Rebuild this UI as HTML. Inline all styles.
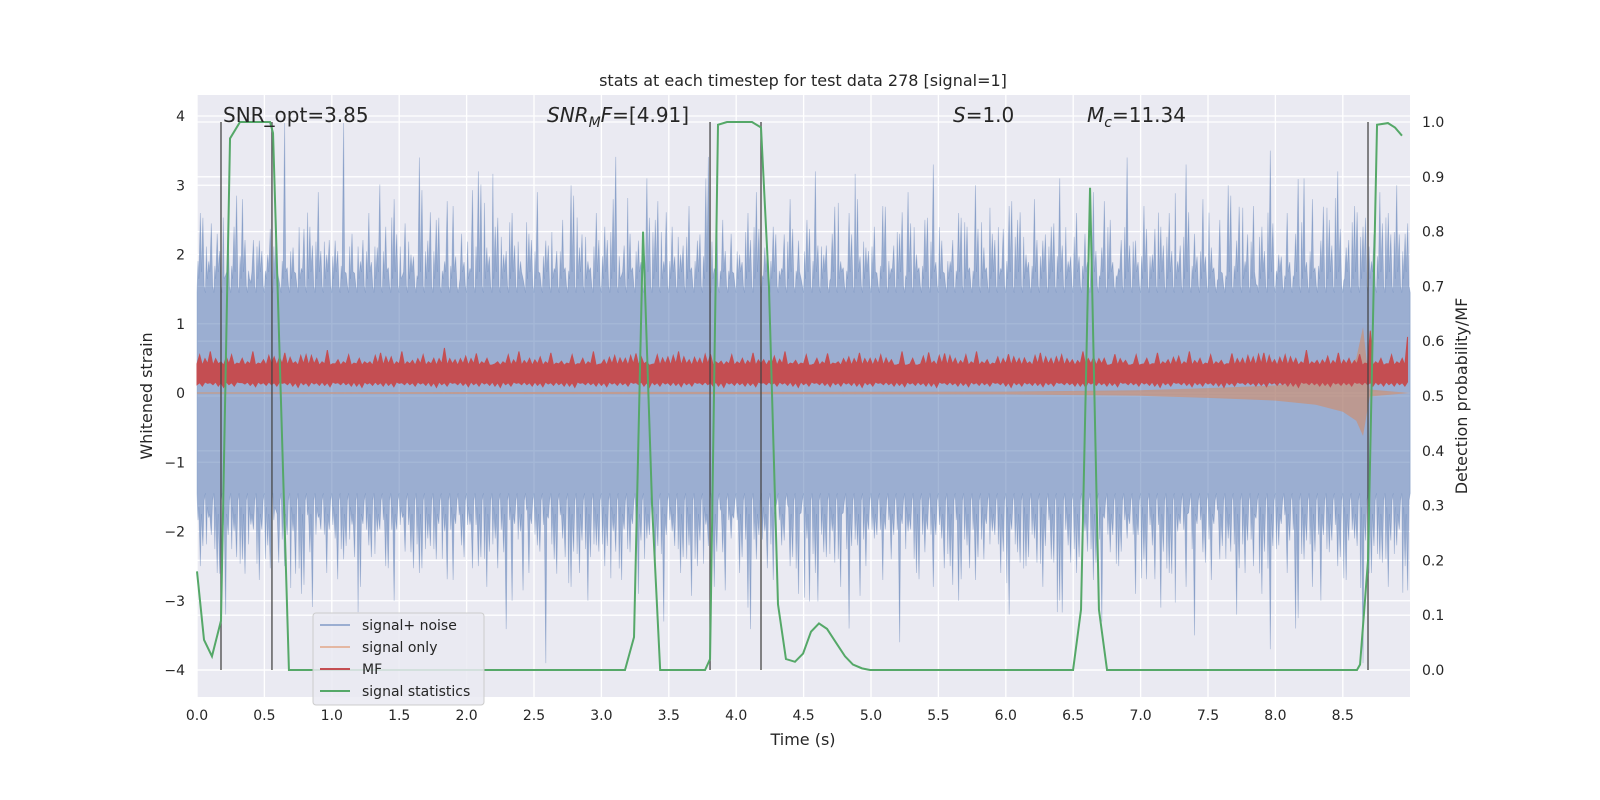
<!DOCTYPE html>
<html><head><meta charset="utf-8"><style>
html,body{margin:0;padding:0;background:#fff;}
svg{display:block;font-family:"DejaVu Sans","Liberation Sans",sans-serif;}
</style></head><body>
<svg id="chart" width="1600" height="800" viewBox="0 0 1600 800">
<rect x="0" y="0" width="1600" height="800" fill="#ffffff"/>
<rect x="197" y="95" width="1213" height="602" fill="#eaeaf2"/>
<g id="grid"></g>
<g id="plot"></g>
<g id="axes"></g>
<text x="803" y="86" text-anchor="middle" font-size="16" fill="#262626">stats at each timestep for test data 278 [signal=1]</text>
<text x="803" y="745" text-anchor="middle" font-size="16" fill="#262626">Time (s)</text>
<text transform="translate(152,396) rotate(-90)" text-anchor="middle" font-size="16" fill="#262626">Whitened strain</text>
<text transform="translate(1467,396) rotate(-90)" text-anchor="middle" font-size="16" fill="#262626">Detection probability/MF</text>
<g font-size="20" fill="#262626">
<text x="223" y="122">SNR_opt=3.85</text>
<text x="547" y="122"><tspan font-style="italic">SNR</tspan><tspan font-style="italic" font-size="14" dy="5">M</tspan><tspan font-style="italic" dy="-5">F</tspan>=[4.91]</text>
<text x="953" y="122"><tspan font-style="italic">S</tspan>=1.0</text>
<text x="1087" y="122"><tspan font-style="italic">M</tspan><tspan font-style="italic" font-size="14" dy="5">c</tspan><tspan dy="-5">=11.34</tspan></text>
</g>
<g>
<rect x="313" y="613" width="171" height="92" rx="3" fill="#eaeaf2" fill-opacity="0.85" stroke="#cccccc"/>
<g><line x1="320" y1="625" x2="350" y2="625" stroke="#4c72b0" stroke-opacity="0.5" stroke-width="2"/><text x="362" y="630" font-size="14" fill="#262626">signal+ noise</text></g>
<g><line x1="320" y1="647" x2="350" y2="647" stroke="#dd8452" stroke-opacity="0.5" stroke-width="2"/><text x="362" y="652" font-size="14" fill="#262626">signal only</text></g>
<g><line x1="320" y1="669" x2="350" y2="669" stroke="#c44e52" stroke-width="2"/><text x="362" y="674" font-size="14" fill="#262626">MF</text></g>
<g><line x1="320" y1="691" x2="350" y2="691" stroke="#55a868" stroke-width="2"/><text x="362" y="696" font-size="14" fill="#262626">signal statistics</text></g>
</g>
</svg>
<script>
const noiseUp = [2.6,1.9,2.3,1.7,2.4,2.8,1.6,2.2,2.0,2.5,3.9,2.1,1.8,2.4,2.9,2.0,2.2,3.9,2.3,1.9,2.6,2.1,2.4,2.8,1.7,2.0,3.4,2.2,2.5,1.9,2.7,2.3,1.8,3.2,2.1,2.4,2.0,2.6,1.9,2.3,2.9,2.2,1.8,2.5,3.0,2.1,1.9,2.6,2.4,2.8,1.7,2.3,2.2,3.1,2.5,1.9,2.4,2.0,2.7,2.2,3.1,1.8,2.5,2.3,2.0,2.6,2.9,2.1,2.4,1.8,2.8,2.2,2.5,3.2,2.0,2.3,1.9,2.6,2.8,2.1,2.4,2.7,1.8,2.3,2.9,2.0,2.5,3.3,2.2,1.9,2.6,2.4,3.0,2.1,2.3,1.8,2.7,2.5,2.0,2.8,2.2,2.4,3.1,1.9,2.6,2.3,2.9,2.1,2.5,1.8,3.4,2.2,2.7,2.0,2.4,2.6,1.9,3.3,2.3,2.8,2.1,2.5,3.0,2.2,1.9,2.7,2.4,3.5,2.0,2.6,2.3,3.1,2.8,2.2,2.5,3.2,2.1,2.7,2.4,1.9,2.9,2.6,3.0,2.3];
const noiseDown = [-2.5,-1.8,-2.6,-3.2,-2.0,-2.4,-1.9,-2.7,-2.2,-1.7,-2.5,-2.0,-2.9,-2.3,-1.8,-2.6,-2.1,-2.4,-1.9,-2.8,-2.2,-2.0,-2.5,-3.0,-1.8,-2.3,-2.6,-2.1,-2.4,-2.0,-2.7,-2.2,-1.9,-2.5,-2.8,-2.1,-2.3,-3.0,-2.0,-2.6,-2.2,-3.9,-2.4,-2.1,-2.8,-2.6,-3.0,-2.2,-2.5,-2.0,-2.7,-2.3,-2.9,-2.1,-2.4,-3.3,-2.0,-2.6,-2.2,-2.5,-1.9,-2.8,-2.3,-2.1,-2.6,-3.1,-2.4,-2.0,-2.7,-2.2,-2.5,-2.9,-2.1,-2.6,-2.3,-2.0,-2.8,-3.4,-2.2,-2.5,-2.1,-2.7,-2.4,-3.6,-2.0,-2.6,-2.3,-2.8,-2.1,-2.5,-3.0,-2.2,-2.7,-2.4,-2.0,-2.6,-3.2,-2.3,-2.5,-2.1,-2.8,-2.4,-3.0,-2.2,-2.6,-2.0,-2.7,-3.3,-2.3,-2.5,-2.1,-2.9,-2.4,-2.2,-3.1,-2.6,-2.0,-2.8,-3.5,-2.3,-2.7,-2.4,-2.1,-3.2,-2.6,-2.5,-2.9,-3.7,-2.2,-2.6,-3.4,-2.4,-2.8,-3.0,-2.3,-2.5,-2.7,-2.1,-3.9,-2.6,-2.4,-2.8,-2.2,-2.5];
const mfHi = [0.55,0.6,0.45,0.55,0.5,0.6,0.48,0.52,0.58,0.45,0.55,0.5,0.62,0.48,0.55,0.5,0.45,0.58,0.52,0.6,0.47,0.55,0.5,0.65,0.48,0.53,0.57,0.5,0.45,0.55,0.6,0.5,0.52,0.58,0.46,0.55,0.5,0.6,0.48,0.54,0.5,0.57,0.45,0.55,0.52,0.6,0.48,0.5,0.56,0.46,0.55,0.5,0.58,0.48,0.53,0.6,0.47,0.55,0.5,0.57,0.45,0.52,0.58,0.5,0.55,0.48,0.6,0.5,0.53,0.46,0.57,0.5,0.55,0.6,0.48,0.52,0.56,0.5,0.45,0.58,0.5,0.55,0.48,0.6,0.52,0.5,0.56,0.47,0.55,0.5,0.58,0.48,0.53,0.6,0.5,0.55,0.47,0.57,0.5,0.52,0.58,0.48,0.55,0.5,0.62,0.47,0.53,0.58,0.5,0.56,0.9,0.5,0.55,0.5];
const mfLo = [0.1,0.12,0.08,0.1,0.13,0.09,0.11,0.1,0.12,0.08,0.1,0.11,0.09,0.12,0.1,0.08,0.11,0.1,0.09,0.12,0.1,0.11,0.08,0.1,0.12,0.09,0.1,0.11,0.08,0.1,0.12,0.1,0.09,0.11,0.1,0.08,0.12,0.1,0.09,0.11,0.1,0.12,0.08,0.1,0.11,0.09,0.1,0.12,0.1,0.08,0.11,0.1,0.09,0.12,0.1,0.11,0.08,0.1,0.12,0.09,0.1,0.11,0.08,0.1,0.12,0.1,0.09,0.11,0.1,0.08,0.12,0.1,0.09,0.11,0.1,0.12,0.08,0.1,0.11,0.09,0.1,0.12,0.1,0.08,0.11,0.1,0.09,0.12,0.1,0.11,0.08,0.1,0.12,0.09,0.1,0.11,0.08,0.1,0.12,0.1,0.09,0.11,0.1,0.08,0.12,0.1,0.09,0.11,0.1,0.12,0.1,0.1,0.1,0.1];
const sigT = [0,6.0,7.0,7.5,8.0,8.3,8.5,8.6,8.65,8.7,9.0];
const sigLo = [-0.01,-0.02,-0.04,-0.07,-0.11,-0.17,-0.27,-0.4,-0.62,-0.05,0];
const sigHi = [0.01,0.02,0.04,0.07,0.11,0.17,0.3,0.5,0.95,0.05,0];
const statT = [0,0.052,0.111,0.178,0.245,0.319,0.542,0.564,0.682,3.175,3.242,3.309,3.376,3.436,3.769,3.806,3.865,3.932,4.117,4.184,4.243,4.310,4.369,4.436,4.496,4.555,4.614,4.674,4.740,4.807,4.866,4.933,4.993,6.499,6.558,6.625,6.691,6.751,8.605,8.628,8.687,8.754,8.835,8.887,8.939];
const statP = [0.18,0.055,0.025,0.09,0.97,1.0,1.0,0.98,0,0,0.06,0.8,0.3,0,0,0.02,0.995,1.0,1.0,0.99,0.7,0.12,0.02,0.015,0.03,0.07,0.085,0.075,0.05,0.025,0.01,0.003,0,0,0.11,0.88,0.11,0,0,0.01,0.2,0.995,0.998,0.99,0.975];
const vlineT = [0.178,0.556,3.806,4.184,8.687];
const xTicks = [0,0.5,1,1.5,2,2.5,3,3.5,4,4.5,5,5.5,6,6.5,7,7.5,8,8.5];
const yLTicks = [-4,-3,-2,-1,0,1,2,3,4];
const yRTicks = [0,0.1,0.2,0.3,0.4,0.5,0.6,0.7,0.8,0.9,1.0];

const NS='http://www.w3.org/2000/svg';
const xs = t => 197 + t*134.8;
const yL = v => 393 - v*69.25;
const yR = p => 670 - p*548;
const T0=0, T1=9.0;
function mk(tag, attrs, parent){const e=document.createElementNS(NS,tag);for(const k in attrs)e.setAttribute(k,attrs[k]);parent.appendChild(e);return e;}
const grid=document.getElementById('grid'), plot=document.getElementById('plot'), axes=document.getElementById('axes');

xTicks.forEach(t=>{
  const l=mk('line',{x1:xs(t),x2:xs(t),y1:95,y2:697,stroke:'#fff','stroke-width':1.3},grid);
  
  
  const tx=mk('text',{x:xs(t),y:720,'text-anchor':'middle','font-size':14,fill:'#262626'},axes);
  tx.textContent=t.toFixed(1);
  
  
});
yLTicks.forEach(v=>{
  const l=mk('line',{x1:197,x2:1410,y1:yL(v),y2:yL(v),stroke:'#fff','stroke-width':1.3},grid);
  
  
  const tx=mk('text',{x:185,y:yL(v)+5,'text-anchor':'end','font-size':14,fill:'#262626'},axes);
  tx.textContent=(v<0?'\u2212'+(-v):String(v));
  
  
});
yRTicks.forEach(p=>{
  const l=mk('line',{x1:197,x2:1410,y1:yR(p),y2:yR(p),stroke:'#fff','stroke-width':1.3},grid);
  
  
  const tx=mk('text',{x:1422,y:yR(p)+5,'text-anchor':'start','font-size':14,fill:'#262626'},axes);
  tx.textContent=p.toFixed(1);
  
  
});

// signal + noise band (with extra interleaved spikes for density)
(function(){
  const n=noiseUp.length, dt=(T1-T0)/n;
  const base=1.45;
  let top=[], bot=[];
  for(let i=0;i<n;i++){
    const t=T0+i*dt;
    const v2=noiseUp[(i*37+11)%n];
    const v3=noiseUp[(i*53+5)%n];
    top.push(xs(t)+','+yL(base));
    top.push(xs(t+dt*0.12)+','+yL(base+(v2-base)*0.7));
    top.push(xs(t+dt*0.22)+','+yL(base+0.2));
    top.push(xs(t+dt*0.4)+','+yL(noiseUp[i]));
    top.push(xs(t+dt*0.52)+','+yL(base+0.3));
    top.push(xs(t+dt*0.7)+','+yL(base+(v3-base)*0.8));
    top.push(xs(t+dt*0.85)+','+yL(base+0.1));
  }
  const m=noiseDown.length, dm=(T1-T0)/m;
  for(let i=m-1;i>=0;i--){
    const t=T0+i*dm;
    const v2=noiseDown[(i*37+11)%m];
    const v3=noiseDown[(i*53+5)%m];
    bot.push(xs(t+dm*0.85)+','+yL(-base-0.1));
    bot.push(xs(t+dm*0.7)+','+yL(-base+(v3+base)*0.8));
    bot.push(xs(t+dm*0.52)+','+yL(-base-0.3));
    bot.push(xs(t+dm*0.4)+','+yL(noiseDown[i]));
    bot.push(xs(t+dm*0.22)+','+yL(-base-0.2));
    bot.push(xs(t+dm*0.12)+','+yL(-base+(v2+base)*0.7));
    bot.push(xs(t)+','+yL(-base));
  }
  const p=mk('polygon',{points:top.concat([xs(T1)+','+yL(base),xs(T1)+','+yL(-base)]).concat(bot).join(' '),fill:'#4c72b0','fill-opacity':0.5,stroke:'#4c72b0','stroke-opacity':0.35,'stroke-width':0.8},plot);
  
  
})();

// signal only
(function(){
  let pts=[];
  sigT.forEach((t,i)=>pts.push(xs(t)+','+yL(sigHi[i])));
  for(let i=sigT.length-1;i>=0;i--)pts.push(xs(sigT[i])+','+yL(sigLo[i]));
  const p=mk('polygon',{points:pts.join(' '),fill:'#dd8452','fill-opacity':0.5},plot);
  
  
})();

// MF
(function(){
  const n=mfHi.length, dt=(T1-T0)/n;
  let top=[], bot=[];
  for(let i=0;i<n;i++){
    const t=T0+i*dt;
    top.push(xs(t)+','+yL(0.42));
    top.push(xs(t+dt*0.25)+','+yL(mfHi[i]));
    top.push(xs(t+dt*0.5)+','+yL(0.4));
    top.push(xs(t+dt*0.75)+','+yL(mfHi[(i*7+3)%n]*0.9));
  }
  for(let i=n-1;i>=0;i--){
    const t=T0+i*dt;
    bot.push(xs(t+dt*0.75)+','+yL(0.16));
    bot.push(xs(t+dt*0.5)+','+yL(mfLo[i]));
    bot.push(xs(t+dt*0.25)+','+yL(0.15));
    bot.push(xs(t)+','+yL(mfLo[i]+0.02));
  }
  const p=mk('polygon',{points:top.concat(bot).join(' '),fill:'#c44e52',stroke:'#c44e52','stroke-width':1},plot);
  
  
})();

// vertical markers
vlineT.forEach(t=>{
  const l=mk('line',{x1:xs(t),x2:xs(t),y1:yR(1.0),y2:yR(0),stroke:'#444','stroke-opacity':0.85,'stroke-width':1.5},plot);
  
  
});

// signal statistics
(function(){
  const pts=statT.map((t,i)=>xs(t)+','+yR(statP[i])).join(' ');
  const p=mk('polyline',{points:pts,fill:'none',stroke:'#55a868','stroke-width':2},plot);
  
  
})();
</script>
</body></html>
